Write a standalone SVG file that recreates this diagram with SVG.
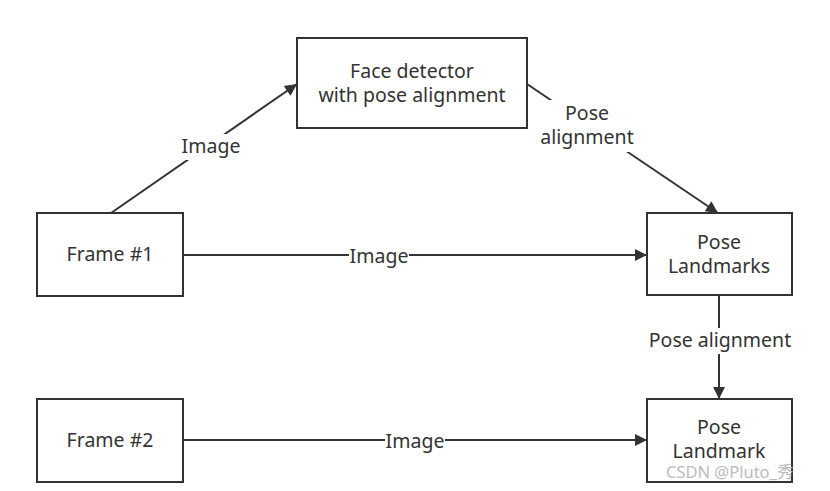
<svg xmlns="http://www.w3.org/2000/svg" width="830" height="491" viewBox="0 0 830 491">
<defs>
<marker id="arr" viewBox="0 0 10 10" refX="10" refY="5" markerWidth="14" markerHeight="12" markerUnits="userSpaceOnUse" orient="auto">
<path d="M0,0 L10,5 L0,10 z" fill="#333"/>
</marker>
<style>
.box{fill:#fff;stroke:#333;stroke-width:2}
.t{font-family:"Noto Sans","Open Sans",sans-serif;font-size:19.5px;fill:#333;text-anchor:middle}
.c{stroke:#333;stroke-width:2;fill:none;marker-end:url(#arr)}
.lbl{font-family:"Noto Sans","Open Sans",sans-serif;font-size:19.5px;fill:#333;text-anchor:middle}
.wm{font-family:"Noto Sans","Noto Sans CJK SC",sans-serif;font-size:16.5px;fill:#bbb}
</style>
</defs>
<rect width="830" height="491" fill="#fff"/>
<g id="connectors">
<path class="c" d="M111,213 L297,84"/>
<path class="c" d="M527,84 L718,213"/>
<path class="c" d="M183,255 L647,255"/>
<path class="c" d="M719,295 L719,399"/>
<path class="c" d="M183,440 L647,440"/>
<rect x="181" y="134" width="60" height="26" fill="#fff"/>
<rect x="540" y="100" width="96" height="52" fill="#fff"/>
<rect x="349" y="244" width="60" height="26" fill="#fff"/>
<rect x="648" y="328" width="146" height="26" fill="#fff"/>
<rect x="385" y="429" width="60" height="26" fill="#fff"/>
<text class="lbl" x="211" y="153">Image</text>
<text class="lbl" x="587" y="120">Pose</text>
<text class="lbl" x="587" y="144">alignment</text>
<text class="lbl" x="379" y="263">Image</text>
<text class="lbl" x="720" y="347">Pose alignment</text>
<text class="lbl" x="415" y="448">Image</text>
</g>
<g id="face-detector">
<rect class="box" x="297" y="38" width="230" height="90"/>
<text class="t" x="412" y="78">Face detector</text>
<text class="t" x="412" y="102">with pose alignment</text>
</g>
<g id="frame1">
<rect class="box" x="37" y="213" width="146" height="83"/>
<text class="t" x="110" y="261">Frame #1</text>
</g>
<g id="pose-landmarks">
<rect class="box" x="647" y="213" width="145" height="82"/>
<text class="t" x="719" y="249">Pose</text>
<text class="t" x="719" y="273">Landmarks</text>
</g>
<g id="frame2">
<rect class="box" x="37" y="399" width="146" height="83"/>
<text class="t" x="110" y="447">Frame #2</text>
</g>
<g id="pose-landmark">
<rect class="box" x="647" y="399" width="145" height="83"/>
<text class="t" x="719" y="434">Pose</text>
<text class="t" x="719" y="458">Landmark</text>
</g>
<text class="wm" x="666" y="478">CSDN @Pluto_秀</text>
</svg>
